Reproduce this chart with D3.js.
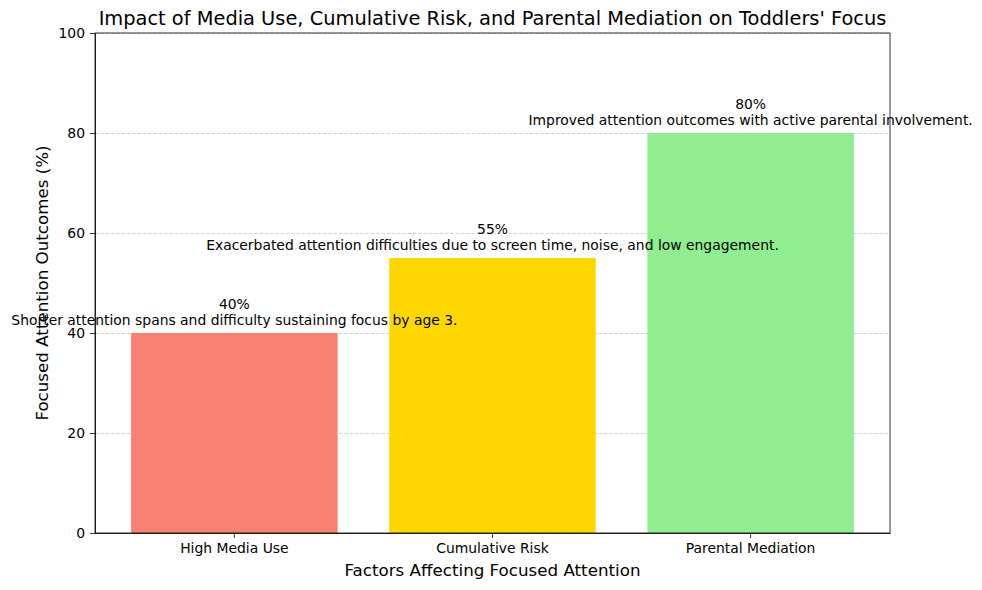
<!DOCTYPE html>
<html>
<head>
<meta charset="utf-8">
<title>Toddlers' Focus</title>
<style>
  body { margin: 0; background: #fff; }
  svg text { font-family: "DejaVu Sans", sans-serif; fill: #000; }
  .grid line { stroke: #b0b0b0; stroke-opacity: 0.7; stroke-dasharray: 3.7,1.6; stroke-width: 0.8px; }
  .grid path { display: none; }
  .axis path, .axis line { stroke: #000; stroke-width: 0.8px; }
</style>
<script src="https://cdn.jsdelivr.net/npm/d3@7"></script>
</head>
<body>
<svg id="chart" width="982" height="590"></svg>
<script>
// data
var categories = ["High Media Use", "Cumulative Risk", "Parental Mediation"];
var values = [40, 55, 80];
var notes = [
  "Shorter attention spans and difficulty sustaining focus by age 3.",
  "Exacerbated attention difficulties due to screen time, noise, and low engagement.",
  "Improved attention outcomes with active parental involvement."
];
var colors = ["#FA8072", "#FFD700", "#90EE90"];
var yTicks = [0, 20, 40, 60, 80, 100];

var margin = { left: 95, right: 92, top: 33, bottom: 57 };
var width = 982 - margin.left - margin.right;
var height = 590 - margin.top - margin.bottom;

var svg = d3.select("#chart");
var g = svg.append("g").attr("transform", "translate(" + margin.left + "," + margin.top + ")");

// bar width 0.8 of a step, 0.14 step of space at each end
var x = d3.scaleBand().domain(categories).range([0, width]).paddingInner(0.2).paddingOuter(0.14);
var y = d3.scaleLinear().domain([0, 100]).range([height, 0]);

// grid
g.append("g").attr("class", "grid")
  .call(d3.axisLeft(y).tickValues(yTicks).tickSize(-width).tickFormat(""));

// bars
g.selectAll("rect.bar").data(values).enter().append("rect")
  .attr("class", "bar")
  .attr("x", function(d, i) { return x(categories[i]); })
  .attr("width", x.bandwidth())
  .attr("y", function(d) { return y(d); })
  .attr("height", function(d) { return height - y(d); })
  .attr("fill", function(d, i) { return colors[i]; });

// value labels
g.selectAll("text.val").data(values).enter().append("text")
  .attr("class", "val")
  .attr("x", function(d, i) { return x(categories[i]) + x.bandwidth() / 2; })
  .attr("y", function(d) { return y(d) - 24; })
  .attr("text-anchor", "middle")
  .style("font-size", "13.9px")
  .text(function(d) { return d + "%"; });

// notes
g.selectAll("text.note").data(notes).enter().append("text")
  .attr("class", "note")
  .attr("x", function(d, i) { return x(categories[i]) + x.bandwidth() / 2; })
  .attr("y", function(d, i) { return y(values[i]) - 8; })
  .attr("text-anchor", "middle")
  .style("font-size", "13.9px")
  .text(function(d) { return d; });

// axes
var yAxis = g.append("g").attr("class", "axis")
  .call(d3.axisLeft(y).tickValues(yTicks).tickSize(5).tickPadding(5).tickSizeOuter(0));
yAxis.selectAll("text").style("font-size", "13.9px");

var xAxis = g.append("g").attr("class", "axis")
  .attr("transform", "translate(0," + height + ")")
  .call(d3.axisBottom(x).tickSize(5).tickPadding(5).tickSizeOuter(0));
xAxis.selectAll("text").style("font-size", "13.9px");

// frame (top and right spines)
g.append("rect")
  .attr("width", width).attr("height", height)
  .attr("fill", "none").attr("stroke", "#000").attr("stroke-width", 0.8);

// titles
svg.append("text")
  .attr("x", margin.left + width / 2).attr("y", 25)
  .attr("text-anchor", "middle")
  .style("font-size", "19.4px")
  .text("Impact of Media Use, Cumulative Risk, and Parental Mediation on Toddlers' Focus");

svg.append("text")
  .attr("x", margin.left + width / 2).attr("y", 576)
  .attr("text-anchor", "middle")
  .style("font-size", "16.7px")
  .text("Factors Affecting Focused Attention");

svg.append("text")
  .attr("transform", "translate(48," + (margin.top + height / 2) + ") rotate(-90)")
  .attr("text-anchor", "middle")
  .style("font-size", "16.7px")
  .text("Focused Attention Outcomes (%)");
</script>
</body>
</html>
